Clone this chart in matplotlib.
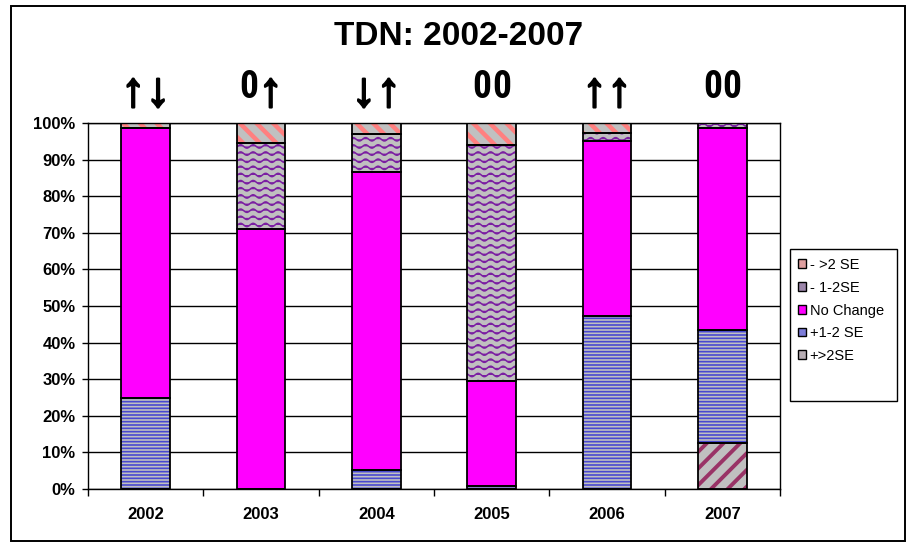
import numpy as np
import matplotlib
matplotlib.use("Agg")
import matplotlib.pyplot as plt
import matplotlib.hatch as mhatch
import matplotlib.transforms as mtransforms
import matplotlib.patheffects as pe
from matplotlib import font_manager as fm
from matplotlib.ft2font import FT2Font
from matplotlib.patches import Rectangle
from matplotlib.path import Path

# ---------------- data ----------------
years = ['2002', '2003', '2004', '2005', '2006', '2007']
plus_gt2 = [0.0, 0.0, 0.0, 0.0, 0.0, 12.5]       # +>2SE
plus_12 = [25.0, 0.0, 5.1, 0.8, 47.4, 30.9]      # +1-2 SE
no_change = [73.6, 71.0, 81.6, 28.8, 47.8, 55.2]  # No Change
minus_12 = [0.0, 23.4, 10.3, 64.4, 2.2, 1.4]     # - 1-2SE
minus_gt2 = [1.4, 5.6, 3.0, 6.0, 2.6, 0.0]       # - >2 SE
symbols = ['\u2191\u2193', '0\u2191', '\u2193\u2191', '00', '\u2191\u2191', '00']
yticks = [0, 10, 20, 30, 40, 50, 60, 70, 80, 90, 100]
legend_labels = ['- >2 SE', '- 1-2SE', 'No Change', '+1-2 SE', '+>2SE']
title = 'TDN: 2002-2007'


# ------------- custom wavy hatch (uses 'O') -------------
class WaveHatch(mhatch.HatchPatternBase):
    def __init__(self, hatch, density):
        self.num_lines = 14 if 'O' in hatch else 0
        self.npts = 81
        self.num_vertices = self.num_lines * self.npts

    def set_vertices_and_codes(self, vertices, codes):
        xs = np.linspace(0, 1, self.npts)
        amp = 0.017
        for k in range(self.num_lines):
            y0 = (k + 0.5) / self.num_lines
            sl = slice(k * self.npts, (k + 1) * self.npts)
            vertices[sl, 0] = xs
            vertices[sl, 1] = y0 + amp * np.sin(2 * np.pi * 8 * xs)
            codes[sl] = Path.LINETO
            codes[k * self.npts] = Path.MOVETO


mhatch._hatch_types[:] = [h for h in mhatch._hatch_types
                          if h.__name__ != 'LargeCircles'] + [WaveHatch]

plt.rcParams['font.family'] = ['Liberation Sans', 'DejaVu Sans']


def is_bold(f):
    w = f.weight
    return w in ('bold', 'heavy', 'black') or (isinstance(w, int) and w >= 700) or \
        (str(w).isdigit() and int(w) >= 700)


# narrow bold font for the "0" trend marks, if one is installed
def find_narrow_bold():
    prefs = ['Liberation Sans Narrow', 'DejaVu Sans Condensed', 'Roboto Condensed',
             'Open Sans Condensed', 'Noto Sans Condensed']
    entries = fm.fontManager.ttflist
    for p in prefs:
        for f in entries:
            if f.name == p and is_bold(f):
                return f.fname
    for f in entries:
        if f.stretch in ('condensed', 'semi-condensed', 'extra-condensed') and is_bold(f):
            return f.fname
    return None


def has_glyph(path, ch):
    try:
        return FT2Font(path).get_char_index(ord(ch)) != 0
    except Exception:
        return False


narrow_path = find_narrow_bold()
narrow_arrows = narrow_path is not None and has_glyph(narrow_path, '\u2191') \
    and has_glyph(narrow_path, '\u2193')

fig = plt.figure(figsize=(9.07, 5.43), dpi=100)
fig.patch.set_facecolor('white')

# outer chart border
fig.add_artist(Rectangle((11 / 907, 2 / 543), 894 / 907, 535 / 543,
                         transform=fig.transFigure, fill=False,
                         edgecolor='black', linewidth=1.4))

ax = fig.add_axes([88 / 907, 1 - 489 / 543, 692 / 907, 366 / 543])

x = np.arange(len(years))
width = 0.42
gray = '#C0C0C0'

series = [
    (plus_gt2, gray, '#993366', '//', 2.8),
    (plus_12, gray, '#4848D0', '-----', 1.2),
    (no_change, '#FF00FF', '#FF00FF', None, 1.0),
    (minus_12, gray, '#7B1FA2', 'O', 1.1),
    (minus_gt2, gray, '#FF8080', '\\\\', 3.2),
]

bottom = np.zeros(len(years))
for vals, face, hcol, hatch, hlw in series:
    vals = np.asarray(vals)
    with plt.rc_context({'hatch.linewidth': hlw, 'hatch.color': hcol}):
        bars = ax.bar(x, vals, width, bottom=bottom, color=face,
                      edgecolor=hcol, linewidth=0, hatch=hatch, zorder=2)
        for b in bars:
            if hasattr(b, 'set_hatch_linewidth'):
                b.set_hatch_linewidth(hlw)
    ax.bar(x, vals, width, bottom=bottom, fill=False, edgecolor='black',
           linewidth=1.3, zorder=3)
    bottom += vals

ax.set_xlim(-0.5, len(years) - 0.5)
ax.set_ylim(0, 100)
ax.set_yticks(yticks)
ax.set_yticklabels([f'{v}%' for v in yticks])
ax.yaxis.grid(True, color='black', linewidth=1.0, zorder=0)
ax.set_axisbelow(True)

ax.set_xticks(x)
ax.set_xticklabels(years)
ax.set_xticks(np.arange(len(years) + 1) - 0.5, minor=True)
ax.tick_params(axis='x', which='major', length=0, pad=13)
ax.tick_params(axis='x', which='minor', length=5, width=1.0, direction='out')
ax.tick_params(axis='y', length=4, width=1.0, direction='out', pad=5)
for lab in ax.get_xticklabels() + ax.get_yticklabels():
    lab.set_fontweight('bold')
    lab.set_fontsize(12)
for s in ax.spines.values():
    s.set_color('black')
    s.set_linewidth(1.0)

# title
fig.text(459 / 907, 1 - 36 / 543, title, ha='center', va='center',
         fontsize=24, fontweight='bold')

# trend symbols above bars: one text per character, laid side by side
ax_h_px = 366.0
arrow_y = (489 - 106) / ax_h_px   # baseline of arrows in axes fraction
zero_y = (489 - 98) / ax_h_px     # baseline of zeros in axes fraction
xform = ax.get_xaxis_transform()
sym_texts = []
for xi, sym in zip(x, symbols):
    pair = []
    for ch in sym:
        if ch == '0':
            if narrow_path:
                fp = fm.FontProperties(fname=narrow_path, size=27)
            else:
                fp = fm.FontProperties(family='Liberation Sans', weight='bold', size=25)
            t = ax.text(xi, zero_y, ch, transform=xform, ha='center', va='baseline',
                        fontproperties=fp, clip_on=False)
        else:
            if narrow_arrows:
                fp = fm.FontProperties(fname=narrow_path, size=38)
            else:
                fp = fm.FontProperties(family='Liberation Sans', weight='bold', size=35)
            t = ax.text(xi, arrow_y, ch, transform=xform, ha='center', va='baseline',
                        fontproperties=fp, clip_on=False)
            t.set_path_effects([pe.withStroke(linewidth=1.6, foreground='black')])
        pair.append(t)
    sym_texts.append((xi, pair))

fig.canvas.draw()
renderer = fig.canvas.get_renderer()
gap = 0.5
for xi, pair in sym_texts:
    widths = [t.get_window_extent(renderer).width for t in pair]
    total = sum(widths) + gap * (len(pair) - 1)
    left = -total / 2.0
    for t, w in zip(pair, widths):
        cx = left + w / 2.0
        t.set_transform(xform + mtransforms.ScaledTranslation(cx / fig.dpi, 0,
                                                              fig.dpi_scale_trans))
        left += w + gap

# legend (proxy squares) and its box
fig.add_artist(Rectangle((790 / 907, 1 - 401 / 543), 107 / 907, 152 / 543,
                         transform=fig.transFigure, fill=True,
                         facecolor='white', edgecolor='black', linewidth=1.0))
legend_faces = ['#E0A0A0', '#9C86AA', '#FF00FF', '#7C7CD8', '#B8AEB4']
handles = [Rectangle((0, 0), 1, 1, facecolor=c, edgecolor='black', linewidth=1.0)
           for c in legend_faces]
fig.legend(handles, legend_labels, loc='upper left',
           bbox_to_anchor=(798 / 907, 1 - 258 / 543), frameon=False,
           fontsize=10.5, handlelength=0.55, handleheight=0.55,
           handletextpad=0.25, labelspacing=0.6, borderpad=0.0,
           borderaxespad=0.0)

fig.savefig('out.png', dpi=100, facecolor='white')
